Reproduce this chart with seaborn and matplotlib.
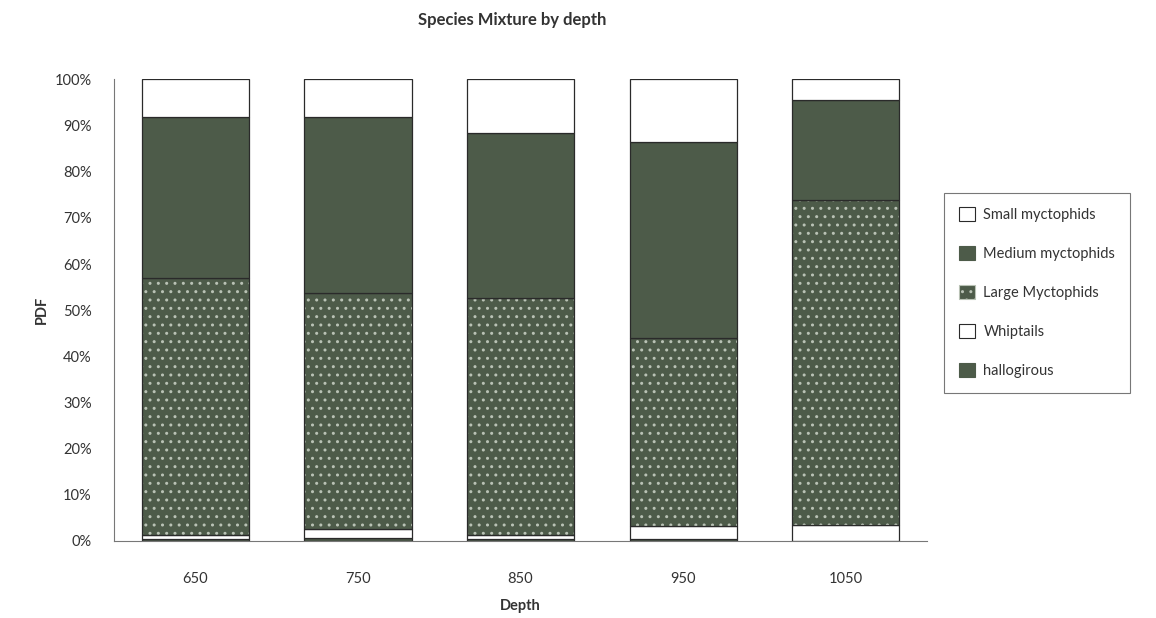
import numpy as np
import pandas as pd
import matplotlib
matplotlib.use("Agg")
import matplotlib.pyplot as plt
from matplotlib.patches import Patch
import seaborn as sns

depths = ["650", "750", "850", "950", "1050"]
hallogirous = [0.5, 0.6, 0.5, 0.5, 0.0]
whiptails = [0.8, 2.0, 0.9, 2.7, 3.4]
large_myct = [55.6, 51.1, 51.3, 40.8, 70.5]
medium_myct = [34.9, 38.1, 35.6, 42.5, 21.6]
small_myct = [8.2, 8.2, 11.7, 13.5, 4.5]

series_names = ["hallogirous", "Whiptails", "Large Myctophids", "Medium myctophids", "Small myctophids"]
series_vals = [hallogirous, whiptails, large_myct, medium_myct, small_myct]

dark = "#4d5b49"
speck = "#b9c2b5"
styles = {
    "hallogirous": dict(color=dark, hatch=None),
    "Whiptails": dict(color="white", hatch=None),
    "Large Myctophids": dict(color=dark, hatch=".."),
    "Medium myctophids": dict(color=dark, hatch=None),
    "Small myctophids": dict(color="white", hatch=None),
}

sns.set_style("white")
plt.rcParams["font.family"] = ["Lato", "DejaVu Sans"]
plt.rcParams["hatch.linewidth"] = 1.0

fig = plt.figure(figsize=(11.56, 6.18), dpi=100)
ax = fig.add_axes([0.0986, 0.1246, 0.7034, 0.7468])

bottom = np.zeros(len(depths))
for name, vals in zip(series_names, series_vals):
    st = styles[name]
    df = pd.DataFrame({"Depth": depths, "val": vals})
    if st["hatch"]:
        sns.barplot(data=df, x="Depth", y="val", order=depths, bottom=bottom,
                    color=st["color"], saturation=1, width=0.66, ax=ax,
                    edgecolor=speck, linewidth=0, hatch=st["hatch"])
        sns.barplot(data=df, x="Depth", y="val", order=depths, bottom=bottom,
                    color="#2a2a2a", saturation=1, width=0.66, ax=ax, fill=False,
                    edgecolor="#2a2a2a", linewidth=0.9)
    else:
        sns.barplot(data=df, x="Depth", y="val", order=depths, bottom=bottom,
                    color=st["color"], saturation=1, width=0.66, ax=ax,
                    edgecolor="#2a2a2a", linewidth=0.9)
    bottom = bottom + np.array(vals)

ax.set_xlim(-0.5, 4.5)
ax.set_ylim(0, 100)
ax.set_yticks(np.arange(0, 101, 10))
ax.set_yticklabels([f"{v}%" for v in range(0, 101, 10)], fontsize=10.5, color="#333333")
ax.set_xticks(range(len(depths)))
ax.set_xticklabels(depths, fontsize=10.5, color="#333333")
ax.set_xticks(np.arange(-0.5, 4.6, 1), minor=True)
ax.tick_params(axis="x", which="major", length=0, pad=22)
ax.tick_params(axis="x", which="minor", length=8, direction="inout", color="#666666", width=0.8)
ax.tick_params(axis="y", which="major", length=8, direction="inout", color="#666666", width=0.8, pad=12)

for s in ["top", "right"]:
    ax.spines[s].set_visible(False)
for s in ["left", "bottom"]:
    ax.spines[s].set_color("#777777")
    ax.spines[s].set_linewidth(0.8)

ax.set_xlabel("Depth", fontsize=10.5, fontweight="bold", color="#333333", labelpad=10)
ax.set_ylabel("PDF", fontsize=10.5, fontweight="bold", color="#333333", labelpad=4)
fig.suptitle("Species Mixture by depth", x=0.443, y=0.98, fontsize=12,
             fontweight="bold", color="#333333")

handles = []
for name in series_names[::-1]:
    st = styles[name]
    if st["color"] == "white":
        ec = "#2a2a2a"
    elif st["hatch"]:
        ec = speck
    else:
        ec = st["color"]
    handles.append(Patch(facecolor=st["color"], edgecolor=ec,
                         hatch=st["hatch"], linewidth=0.8, label=name))
leg = fig.legend(handles=handles, loc="upper left", bbox_to_anchor=(0.8166, 0.688),
                 borderaxespad=0, frameon=True, fancybox=False, edgecolor="#555555",
                 fontsize=10.5, handlelength=1.1, handleheight=1.1, handletextpad=0.6,
                 labelspacing=1.65, borderpad=1.0, labelcolor="#333333")
leg.get_frame().set_linewidth(0.8)

fig.savefig("out.png", dpi=100)
